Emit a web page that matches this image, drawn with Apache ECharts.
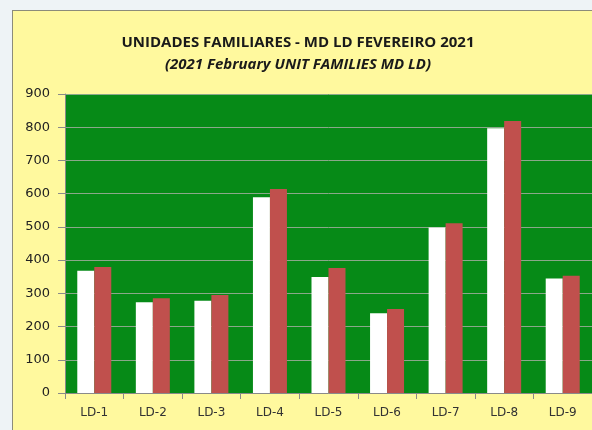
<!DOCTYPE html>
<html>
<head>
<meta charset="utf-8">
<script src="https://cdn.jsdelivr.net/npm/echarts@6/dist/echarts.min.js"></script>
<style>
    html, body { margin: 0; padding: 0; background: #eef3f6; }
    #wrap { position: relative; width: 592px; height: 430px; overflow: hidden; }
    #box { position: absolute; left: 12px; top: 10px; width: 600px; height: 440px;
           background: #fff99e; border: 1px solid #8c8c7a; }
    #chart { position: absolute; left: 0; top: 0; width: 592px; height: 430px; }
</style>
</head>
<body>
<div id="wrap">
    <div id="box"></div>
    <div id="chart"></div>
</div>
<script type="text/javascript">
    var categories = ['LD-1', 'LD-2', 'LD-3', 'LD-4', 'LD-5', 'LD-6', 'LD-7', 'LD-8', 'LD-9'];
    var whiteValues = [368, 273, 278, 589, 349, 240, 498, 797, 345];
    var redValues = [379, 285, 295, 614, 376, 253, 511, 819, 353];
    var yTicks = [0, 100, 200, 300, 400, 500, 600, 700, 800, 900];

    var myChart = echarts.init(document.getElementById('chart'), null, {renderer: 'canvas'});
    var option = {
        animation: false,
        backgroundColor: 'transparent',
        title: [
            {
                text: 'UNIDADES FAMILIARES - MD LD FEVEREIRO 2021',
                left: 293, top: 30, textAlign: 'center',
                textStyle: { fontFamily: 'Open Sans', fontWeight: 'bold', fontSize: 15, color: '#1a1a1a' }
            },
            {
                text: '(2021 February UNIT FAMILIES MD LD)',
                left: 293, top: 52, textAlign: 'center',
                textStyle: { fontFamily: 'Open Sans', fontWeight: 'bold', fontStyle: 'italic', fontSize: 15, color: '#1a1a1a' }
            }
        ],
        grid: {
            left: 65, top: 94, width: 527, height: 299,
            show: true, backgroundColor: '#068a17', borderWidth: 0
        },
        xAxis: {
            type: 'category',
            data: categories,
            axisLine: { lineStyle: { color: '#8a8a8a' } },
            axisTick: { show: true, length: 6, lineStyle: { color: '#8a8a8a' } },
            axisLabel: { color: '#333', fontFamily: 'DejaVu Sans', fontSize: 12, margin: 14 }
        },
        yAxis: {
            type: 'value',
            min: yTicks[0], max: yTicks[yTicks.length - 1], interval: 100,
            axisLine: { show: true, lineStyle: { color: '#8a8a8a' } },
            axisTick: { show: true, length: 7, lineStyle: { color: '#8a8a8a' } },
            axisLabel: { color: '#222', fontFamily: 'DejaVu Sans', fontSize: 13, margin: 15 },
            splitLine: { lineStyle: { color: '#8aa88a', width: 1 } }
        },
        series: [
            {
                type: 'bar', data: whiteValues, barWidth: 17, barGap: '0%',
                itemStyle: { color: '#ffffff' }
            },
            {
                type: 'bar', data: redValues, barWidth: 17,
                itemStyle: { color: '#c0504d' }
            }
        ]
    };
    myChart.setOption(option);
</script>
</body>
</html>
